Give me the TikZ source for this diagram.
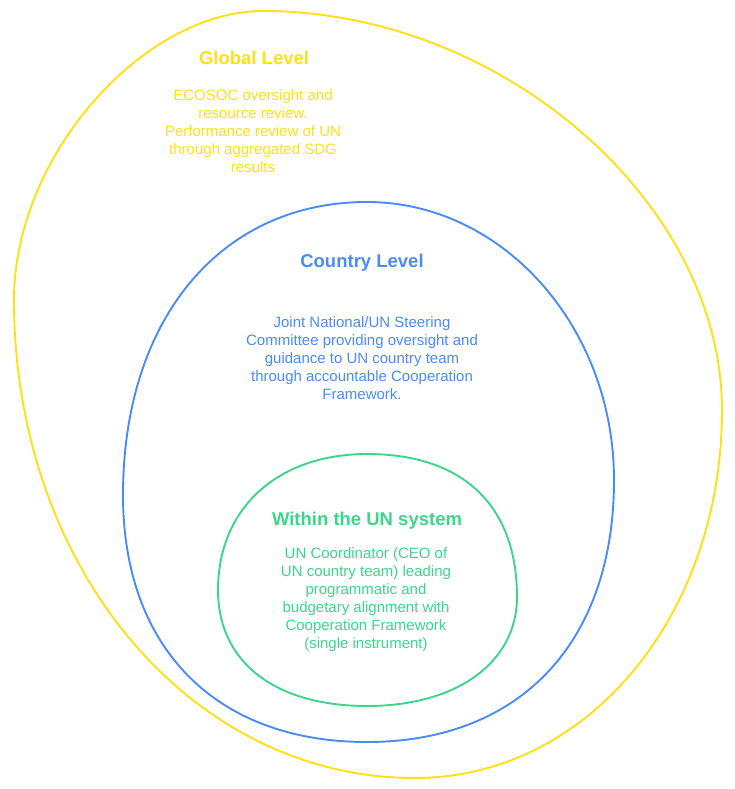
\documentclass[tikz,border=0pt]{standalone}
\usepackage{fontspec}
\setmainfont{Liberation Sans}
\definecolor{gyellow}{HTML}{FFE014}
\definecolor{cblue}{HTML}{4A8BF5}
\definecolor{ugreen}{HTML}{3CD68B}
\tikzset{
  blob/.style={line width=1.9pt},
  ttl/.style={font=\fontsize{18.5}{21}\selectfont\bfseries, inner sep=0pt, anchor=center},
  body/.style={font=\fontsize{15}{18}\selectfont, align=center, inner sep=0pt, anchor=north}
}
\begin{document}
\begin{tikzpicture}[x=1pt,y=-1pt]
\useasboundingbox (0,0) rectangle (735,789);
% outer (yellow): top (263,11), right (722,410), bottom (415,778), left (14,300)
\draw[blob, gyellow] (263,11)
  .. controls (263+0.52*459,11) and (722,410-0.52*399) .. (722,410)
  .. controls (722,410+0.56*368) and (415+0.56*307,778) .. (415,778)
  .. controls (415-0.56*401,778) and (14,300+0.56*478) .. (14,300)
  .. controls (14,300-0.50*289) and (263-0.48*249,11) .. (263,11) -- cycle;
% middle (blue): top (367,202), right (614,480), bottom (367,742), left (123,495)
\draw[blob, cblue] (367,202)
  .. controls (367+0.55*247,202) and (614,480-0.55*278) .. (614,480)
  .. controls (614,480+0.62*262) and (367+0.62*247,742) .. (367,742)
  .. controls (367-0.62*244,742) and (123,495+0.62*247) .. (123,495)
  .. controls (123,495-0.60*293) and (367-0.60*244,202) .. (367,202) -- cycle;
% inner (green): top (367,454), right (517,597), bottom (367,706), left (218,590)
\draw[blob, ugreen] (367,454)
  .. controls (367+0.64*150,454) and (517,597-0.64*143) .. (517,597)
  .. controls (517,597+0.60*109) and (367+0.60*150,706) .. (367,706)
  .. controls (367-0.62*149,706) and (218,590+0.62*116) .. (218,590)
  .. controls (218,590-0.60*136) and (367-0.60*149,454) .. (367,454) -- cycle;
% texts
\node[ttl, text=gyellow] (gtitle) at (254,58) {Global Level};
\node[body, text=gyellow] (gbody) at (253,89) {ECOSOC oversight and\\resource review.\\Performance review of UN\\through aggregated SDG\\results};
\node[ttl, text=cblue] (ctitle) at (362,263) {Country Level};
\node[body, text=cblue] (cbody) at (362,316) {Joint National/UN Steering\\Committee providing oversight and\\guidance to UN country team\\through accountable Cooperation\\Framework.};
\node[ttl, text=ugreen] (wtitle) at (367,521) {Within the UN system};
\node[body, text=ugreen] (wbody) at (366,547) {UN Coordinator (CEO of\\UN country team) leading\\programmatic and\\budgetary alignment with\\Cooperation Framework\\(single instrument)};
\end{tikzpicture}
\end{document}
